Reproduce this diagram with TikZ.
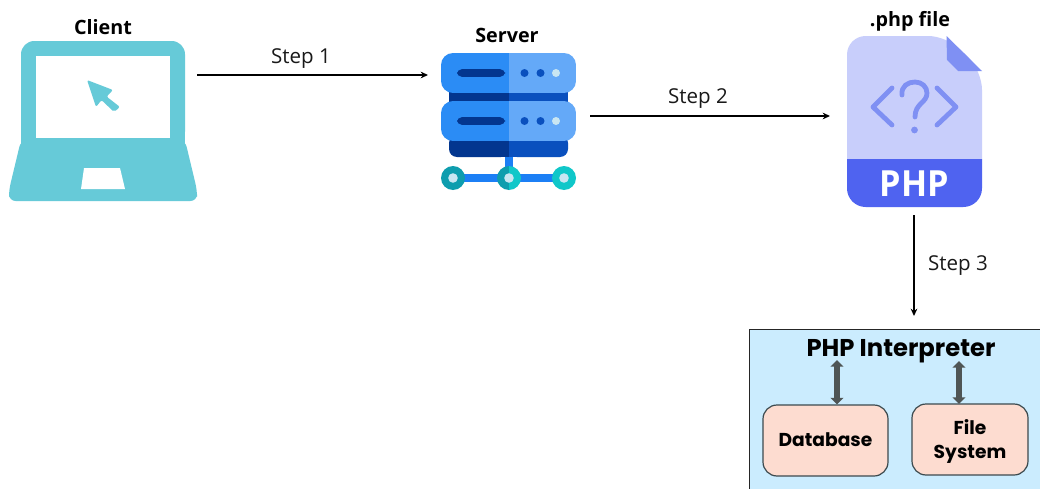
\documentclass[tikz,border=0pt]{standalone}
\usepackage{fontspec}
\setmainfont{Open Sans}
\newfontfamily\popfont{Poppins}
\usetikzlibrary{arrows.meta}
\definecolor{lapteal}{HTML}{66CAD8}
\definecolor{srvA}{HTML}{2B8CF5}
\definecolor{srvB}{HTML}{64A9F8}
\definecolor{srvDk}{HTML}{03368F}
\definecolor{srvMd}{HTML}{0A50BE}
\definecolor{srvBar}{HTML}{1C7FF5}
\definecolor{srvTlA}{HTML}{0E9DAE}
\definecolor{srvTlB}{HTML}{10C7C9}
\definecolor{srvDot}{HTML}{C9E6F2}
\definecolor{phpLt}{HTML}{C8CEFB}
\definecolor{phpMd}{HTML}{7F90F3}
\definecolor{phpDk}{HTML}{4F63F0}
\definecolor{intBg}{HTML}{CBECFE}
\definecolor{intBox}{HTML}{FDDCD0}
\definecolor{intEdge}{HTML}{3C4A4E}
\definecolor{intArrow}{HTML}{4F5555}
\tikzset{
  x=0.75pt,y=-0.75pt,
  iconlabel/.style={font=\bfseries\fontsize{14.8}{16}\selectfont,inner sep=0pt,text=black},
  steplabel/.style={font=\fontsize{15.4}{17}\selectfont,inner sep=0pt,text=black!90},
  flow/.style={line width=1.2pt,black,-{Stealth[length=5.5pt,width=5pt]}},
  both/.style={line width=4.2pt,intArrow,{Triangle[length=5pt,width=9.5pt]}-{Triangle[length=5pt,width=9.5pt]}},
  innerbox/.style={draw=intEdge,line width=0.9pt,fill=intBox,rounded corners=10.5pt,inner sep=0pt,align=center,
    font=\popfont\bfseries\fontsize{14}{18}\selectfont},
  innertext/.style={inner sep=0pt,align=center,font=\popfont\bfseries\fontsize{14}{18}\selectfont},
}
\begin{document}
\begin{tikzpicture}
\useasboundingbox (0,0) rectangle (1040,489);
\fill[white] (0,0) rectangle (1040,489);
% --- laptop
\fill[lapteal,rounded corners=10pt] (21,145) -- (21,41) -- (185,41) -- (185,145) -- cycle;
\fill[lapteal,rounded corners=5pt] (21,140) -- (185,140) -- (197,190) -- (197,201) -- (9,201) -- (9,190) -- cycle;
\fill[lapteal] (21,125) rectangle (185,150);
\fill[white] (36,56) rectangle (170,138);
\fill[white] (84,168) -- (120,168) -- (125,189) -- (81,189) -- cycle;
\fill[lapteal,rounded corners=1.5pt] (87,80) -- (113,90) -- (106.5,96.5) -- (120,107) -- (114,112) -- (101.5,100) -- (96,107) -- cycle;
% --- server
\fill[srvDk] (449,90) rectangle (509,104);
\fill[srvMd] (509,90) rectangle (568,104);
\fill[srvBar] (505,150) rectangle (513,178);
\fill[srvDk,rounded corners=6pt] (449,135) -- (509,135) -- (509,157) -- (449,157) -- cycle;
\fill[srvMd,rounded corners=6pt] (509,135) -- (568,135) -- (568,157) -- (509,157) -- cycle;
\fill[srvDk] (500,135) rectangle (509,157);
\fill[srvMd] (509,135) rectangle (518,157);
\foreach \ya/\yb in {53/93,101/141}{
  \begin{scope}
    \clip[rounded corners=9pt] (441,\ya) rectangle (576,\yb);
    \fill[srvA] (441,\ya) rectangle (509,\yb);
    \fill[srvB] (509,\ya) rectangle (576,\yb);
  \end{scope}
  \fill[srvDk,rounded corners=3.6pt] (457,{(\ya+\yb)/2-3.8}) rectangle (505,{(\ya+\yb)/2+3.8});
  \fill[srvMd] (524.5,{(\ya+\yb)/2}) circle (4);
  \fill[srvMd] (540.5,{(\ya+\yb)/2}) circle (4);
  \fill[srvDot] (556,{(\ya+\yb)/2}) circle (4);
}
\fill[srvBar] (453,174) rectangle (564,182);
\fill[srvTlA] (453,178) circle (12);
\fill[srvTlA] (509,190) arc (90:270:12) -- cycle;
\fill[srvTlB] (509,190) arc (90:-90:12) -- cycle;
\fill[srvTlB] (564,178) circle (12);
\foreach \cx in {453,509,564}{\fill[srvDot] (\cx,178) circle (4.8);}
% --- php file
\begin{scope}
  \clip[rounded corners=14pt] (847,36) -- (947,36) -- (982,71) -- (982,207) -- (847,207) -- cycle;
  \fill[phpLt] (840,30) rectangle (990,159);
  \fill[phpDk] (840,159) rectangle (990,212);
\end{scope}
\fill[phpMd] (946.5,36) -- (982,71) -- (958,71) -- (947,60) -- cycle;
\draw[phpMd,line width=3.6pt,line cap=round,line join=round] (892,88) -- (873,107) -- (892,125);
\draw[phpMd,line width=3.6pt,line cap=round,line join=round] (937,88) -- (956,107) -- (937,125);
\draw[phpMd,line width=3.6pt,line cap=round] (902,95) .. controls (901,86) and (908,82) .. (915,82) .. controls (922,82) and (927,87) .. (927,93) .. controls (927,103) and (915,103) .. (915,117);
\fill[phpMd] (914.5,130) circle (3.4);
\node[inner sep=0pt,text=white,font=\bfseries\fontsize{27}{29}\selectfont,xscale=0.95] (phpword) at (914.5,184) {PHP};
% --- icon labels
\node[iconlabel] (clientlabel) at (103,27) {Client};
\node[iconlabel] (serverlabel) at (507,35) {Server};
\node[iconlabel] (filelabel) at (910,21) {.php file};
% --- interpreter
\fill[intBg] (749,329) rectangle (1040,489);
\draw[black!85,line width=0.8pt] (749.4,489) -- (749.4,329.4) -- (1040,329.4);
\node[inner sep=0pt,font=\popfont\bfseries\fontsize{18.2}{20}\selectfont] (interp) at (901,351) {PHP Interpreter};
\node[innerbox,minimum width=93.75pt,minimum height=53.25pt] (db) at (825.5,440.5) {};
\node[innertext] (dbtext) at (825.5,440) {Database};
\node[innerbox,minimum width=87pt,minimum height=53.25pt] (fs) at (970,439.5) {};
\node[innertext] (fstext) at (970,441.5) {File\\System};
\coordinate (dbtop) at (837,404.5);
\coordinate (dbup) at (837,360);
\coordinate (fstop) at (959,404);
\coordinate (fsup) at (959,361);
\draw[both] (dbup) -- (dbtop);
\draw[both] (fsup) -- (fstop);
% --- flow
\coordinate (clientout) at (197,75);
\coordinate (serverin) at (428,75);
\coordinate (serverout) at (590,116);
\coordinate (filein) at (830,116);
\coordinate (fileout) at (914,215);
\coordinate (interpin) at (914,316);
\draw[flow] (clientout) -- (serverin);
\draw[flow] (serverout) -- (filein);
\draw[flow] (fileout) -- (interpin);
\node[steplabel] (s1) at (301,59) {Step 1};
\node[steplabel] (s2) at (698,99) {Step 2};
\node[steplabel] (s3) at (958,266) {Step 3};
\end{tikzpicture}
\end{document}
